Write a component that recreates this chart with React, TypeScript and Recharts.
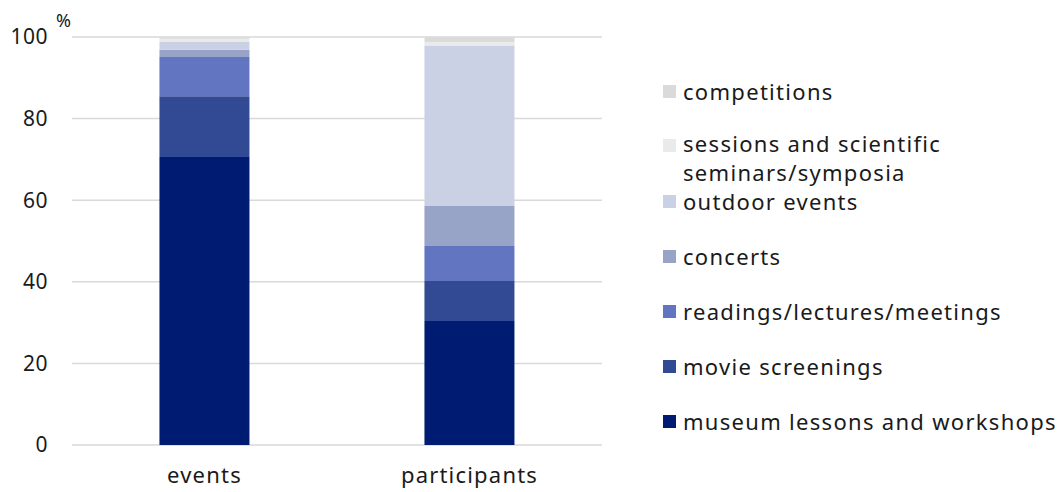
import { BarChart, Bar, XAxis, YAxis, CartesianGrid } from 'recharts';

const categories = ['events', 'participants'];
const museum = [70.6, 30.4];
const movie = [14.9, 9.8];
const readings = [9.6, 8.6];
const concerts = [1.8, 9.8];
const outdoor = [1.9, 39.3];
const sessions = [0.8, 0.8];
const competitions = [0.4, 1.3];
const yTicks = [0, 20, 40, 60, 80, 100];

const SERIES = [
  { key: 'museum', name: 'museum lessons and workshops', color: '#001c72', values: museum },
  { key: 'movie', name: 'movie screenings', color: '#324a93', values: movie },
  { key: 'readings', name: 'readings/lectures/meetings', color: '#6275c1', values: readings },
  { key: 'concerts', name: 'concerts', color: '#97a4c8', values: concerts },
  { key: 'outdoor', name: 'outdoor events', color: '#cbd1e5', values: outdoor },
  { key: 'sessions', name: 'sessions and scientific seminars/symposia', color: '#e9eaea', values: sessions },
  { key: 'competitions', name: 'competitions', color: '#d9dad9', values: competitions },
];

const data = categories.map((c, i) => {
  const row: any = { name: c };
  SERIES.forEach((s) => (row[s.key] = s.values[i]));
  return row;
});

const FONT = '"Noto Sans", sans-serif';

function LegendBox() {
  const items = [...SERIES].reverse();
  return (
    <div style={{ position: 'absolute', left: 663, top: 64, fontFamily: FONT, fontSize: 22, letterSpacing: 1.3, color: '#1a1a1a' }}>
      {items.map((s) => (
        <div key={s.key} style={{ height: 55, display: 'flex', alignItems: 'flex-start', paddingTop: s.key === 'sessions' ? 10 : 12, boxSizing: 'border-box', overflow: 'visible' }}>
          <div style={{ width: 13, height: 13, background: s.color, marginTop: s.key === 'sessions' ? 10 : 9, marginRight: 7, flexShrink: 0 }} />
          <div style={{ lineHeight: s.key === 'sessions' ? '29px' : '31px', whiteSpace: 'nowrap' }}>
            {s.key === 'sessions' ? (
              <>
                sessions and scientific
                <br />
                seminars/symposia
              </>
            ) : (
              s.name
            )}
          </div>
        </div>
      ))}
    </div>
  );
}

export default function App() {
  return (
    <div style={{ position: 'relative', width: 1059, height: 492, background: '#fff' }}>
      <style>{`body{margin:0}`}</style>
      <BarChart width={1059} height={492} data={data} margin={{ top: 37, right: 457, left: 12, bottom: 17 }} barCategoryGap="33%">
        <CartesianGrid vertical={false} stroke="#d9d9d9" strokeWidth={1.5} />
        <XAxis dataKey="name" axisLine={false} tickLine={false} tickSize={0} tickMargin={22} height={30}
          tick={{ fill: '#1a1a1a', fontSize: 22, fontFamily: FONT, letterSpacing: 1.2 }} />
        <YAxis domain={[0, 100]} ticks={yTicks} axisLine={false} tickLine={false} tickSize={0} tickMargin={24} width={60}
          tick={{ fill: '#1a1a1a', fontSize: 21, fontFamily: FONT, letterSpacing: 0.5 }} />
        {SERIES.map((s) => (
          <Bar key={s.key} dataKey={s.key} name={s.name} stackId="a" fill={s.color} isAnimationActive={false} />
        ))}
      </BarChart>
      <div style={{ position: 'absolute', left: 56, top: 8, fontFamily: FONT, fontSize: 18, color: '#1a1a1a' }}>%</div>
      <LegendBox />
    </div>
  );
}
